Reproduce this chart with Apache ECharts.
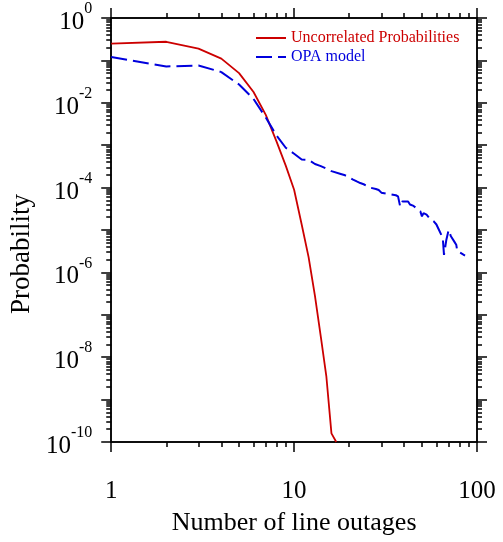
<!DOCTYPE html>
<html>
<head>
<meta charset="utf-8" />
<title>Probability vs line outages</title>
<script src="https://cdn.jsdelivr.net/npm/echarts@6/dist/echarts.min.js"></script>
<style>
	html, body { margin: 0; padding: 0; background: #fff; }
	#chart { width: 503px; height: 542px; }
</style>
</head>
<body>
<div id="chart"></div>
<script type="text/javascript">
	//独立（不相关）概率
	const redX = [1, 2, 3, 4, 5, 6, 7, 8, 9, 10, 11, 12, 13, 14, 15, 16, 17];
	const redY = [0.25, 0.275, 0.19, 0.11, 0.05, 0.018, 5.2e-3, 1.25e-3, 3.3e-4, 8.9e-5,
		1.35e-5, 2.3e-6, 2.8e-7, 3.0e-8, 3.6e-9, 1.6e-10, 1.0e-10];

	//OPA 模型
	const blueX = [1, 2, 3, 4, 5, 6, 7, 8, 9, 10, 11, 12, 13, 14, 15, 16, 18, 19, 20, 21,
		22, 23, 24, 25, 26, 28, 29, 30, 32, 34, 36, 37, 38, 39, 42, 43, 44, 45, 46, 49,
		50, 51, 53, 55, 56, 58, 60, 62, 65, 66, 68, 70, 72, 75, 77, 78, 86];
	const blueY = [0.12, 0.072, 0.076, 0.053, 0.027, 0.0123, 4.5e-3, 1.7e-3, 8.7e-4, 6.3e-4,
		4.6e-4, 4.5e-4, 3.6e-4, 3.2e-4, 2.8e-4, 2.45e-4, 2.1e-4, 1.95e-4, 1.75e-4, 1.55e-4,
		1.4e-4, 1.28e-4, 1.2e-4, 1.1e-4, 1.0e-4, 9.3e-5, 8.8e-5, 7.6e-5, 7.2e-5, 6.9e-5,
		6.6e-5, 6.2e-5, 3.6e-5, 4.7e-5, 4.7e-5, 4.0e-5, 4.4e-5, 3.7e-5, 3.6e-5, 2.75e-5,
		2.1e-5, 2.5e-5, 2.3e-5, 1.9e-5, 1.75e-5, 1.6e-5, 1.35e-5, 1.0e-5, 6.5e-6, 2.6e-6,
		5.9e-6, 1.0e-5, 7.1e-6, 5.4e-6, 4.5e-6, 3.2e-6, 2.5e-6];

	//刻度（以10为底的指数）
	const xMajor = [0, 1, 2];
	const yMajor = [-10, -9, -8, -7, -6, -5, -4, -3, -2, -1, 0];
	const yLabels = [-10, -8, -6, -4, -2, 0];

	const serif = 'Liberation Serif';

	//全部刻度：k + log10(m), m = 1..9
	const allExp = function(lo, hi) {
		let res = [];
		for (let k = lo; k < hi; k++) {
			for (let m = 1; m <= 9; m++) {
				res.push(k + Math.log10(m));
			}
		}
		res.push(hi);
		return res;
	};
	const xTicks = allExp(0, 2);
	const yTicks = allExp(-10, 0);

	//数据转成对数坐标
	const logPairs = function(xs, ys) {
		return xs.map(function(x, i) { return [Math.log10(x), Math.log10(ys[i])]; });
	};

	const makeAxis = function(pos, lo, hi, ticks, len) {
		return {
			gridIndex: 0, type: 'value', min: lo, max: hi, position: pos,
			axisLine: { show: true, onZero: false, lineStyle: { color: '#000', width: 1.5 } },
			axisTick: { show: true, inside: false, length: len, customValues: ticks, lineStyle: { color: '#000', width: 1.5 } },
			axisLabel: { show: false },
			splitLine: { show: false }
		};
	};

	//每条边的第一根轴带全部刻度（短），第二根轴只补长的主刻度
	const xBottom = makeAxis('bottom', 0, 2, xTicks, 5);
	xBottom.axisLabel = {
		show: true, customValues: xMajor, margin: 37,
		fontFamily: serif, fontSize: 25, color: '#000',
		formatter: function(v) { return String(Math.round(Math.pow(10, v))); }
	};
	xBottom.name = 'Number of line outages';
	xBottom.nameLocation = 'middle';
	xBottom.nameGap = 68;
	xBottom.nameTextStyle = { fontFamily: serif, fontSize: 26, color: '#000' };

	const yLeft = makeAxis('left', -10, 0, yTicks, 5);
	yLeft.axisLabel = {
		show: true, customValues: yLabels, margin: 19,
		formatter: function(v) {
			return '{b|10}{s|' + Math.round(v) + '}';
		},
		rich: {
			b: { fontFamily: serif, fontSize: 25, color: '#000', lineHeight: 34, verticalAlign: 'bottom' },
			s: { fontFamily: serif, fontSize: 16, color: '#000', lineHeight: 34, verticalAlign: 'top' }
		}
	};
	yLeft.name = 'Probability';
	yLeft.nameLocation = 'middle';
	yLeft.nameGap = 67;
	yLeft.nameTextStyle = { fontFamily: serif, fontSize: 27, color: '#000', padding: [0, 48, 0, 0] };

	const chart = echarts.init(document.getElementById('chart'), null, { renderer: 'canvas' });
	const option = {
		animation: false,
		backgroundColor: '#fff',
		grid: [{ left: 110, right: 26, top: 18, bottom: 100, containLabel: false }],
		legend: {
			orient: 'vertical', left: 250, top: 25,
			itemWidth: 30, itemHeight: 14, itemGap: 3,
			itemStyle: { opacity: 0 },
			textStyle: { fontFamily: serif, fontSize: 16 },
			data: [
				{ name: 'Uncorrelated Probabilities', textStyle: { color: '#cc0000' } },
				{ name: 'OPA model', textStyle: { color: '#0000dd' } }
			]
		},
		xAxis: [
			xBottom,
			makeAxis('top', 0, 2, xTicks, 5),
			makeAxis('bottom', 0, 2, xMajor, 10),
			makeAxis('top', 0, 2, xMajor, 10)
		],
		yAxis: [
			yLeft,
			makeAxis('right', -10, 0, yTicks, 5),
			makeAxis('left', -10, 0, yMajor, 10),
			makeAxis('right', -10, 0, yMajor, 10)
		],
		series: [{
			name: 'Uncorrelated Probabilities',
			type: 'line',
			xAxisIndex: 0, yAxisIndex: 0,
			symbol: 'none',
			clip: true,
			lineStyle: { color: '#cc0000', width: 1.8 },
			itemStyle: { color: '#cc0000' },
			data: logPairs(redX, redY)
		}, {
			name: 'OPA model',
			type: 'line',
			xAxisIndex: 0, yAxisIndex: 0,
			symbol: 'none',
			clip: true,
			lineStyle: { color: '#0000dd', width: 2, type: [16, 6] },
			itemStyle: { color: '#0000dd' },
			data: logPairs(blueX, blueY)
		}]
	};
	chart.setOption(option);
</script>
</body>
</html>
